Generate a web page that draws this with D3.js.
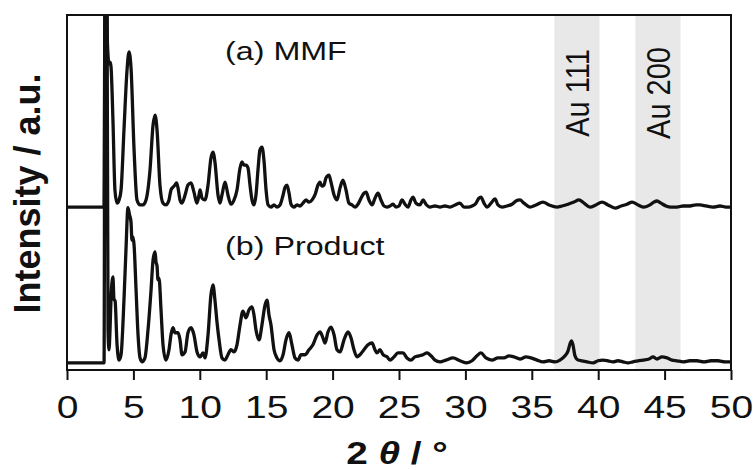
<!DOCTYPE html>
<meta charset="utf-8">
<script src="https://d3js.org/d3.v7.min.js"></script>
<style>
  body { margin: 0; background: #fff; }
  text { font-family: "Liberation Sans", Arial, sans-serif; fill: #111; }
</style>
<div id="chart"></div>
<script>
// 2-theta (deg) and intensity (a.u., above each trace's own baseline)
var mmf = [[0,0],[2.79,0],[2.86,60],[2.97,60],[3.05,45.6],[3.17,40.3],[3.24,40.8],[3.31,39.7],[3.46,24.5],[3.61,4.8],[3.77,1.1],[3.92,2.0],[4.07,4.8],[4.29,21.7],[4.52,38.6],[4.67,43.7],[4.82,39.2],[5.05,16.1],[5.27,2.0],[5.50,0.6],[5.72,0.6],[5.95,2.0],[6.25,10.4],[6.48,23.1],[6.63,25.9],[6.78,21.7],[7.00,6.2],[7.23,1.1],[7.45,0.6],[7.68,2.0],[7.83,4.8],[7.98,5.6],[8.13,6.2],[8.25,6.8],[8.36,5.4],[8.51,2.0],[8.66,1.1],[8.89,3.4],[9.11,6.2],[9.34,6.8],[9.56,4.2],[9.79,1.1],[9.94,3.4],[10.02,4.8],[10.17,2.5],[10.39,2.0],[10.62,6.2],[10.84,13.8],[10.99,15.5],[11.14,12.7],[11.37,3.4],[11.52,1.1],[11.67,3.4],[11.90,7.0],[12.12,3.4],[12.35,0.8],[12.58,2.0],[12.80,4.8],[13.03,11.0],[13.18,12.7],[13.33,11.8],[13.48,11.8],[13.63,11.0],[13.78,6.2],[13.93,2.0],[14.08,0.6],[14.23,3.4],[14.38,10.4],[14.53,16.1],[14.68,16.9],[14.83,13.2],[14.99,4.8],[15.14,0.6],[15.36,0],[15.59,0.6],[15.81,0],[16.04,0.6],[16.27,3.4],[16.42,5.6],[16.57,6.2],[16.72,3.9],[16.87,0.8],[17.09,0],[17.32,0.6],[17.55,0.3],[17.77,1.1],[18.00,2.0],[18.22,1.4],[18.45,2.0],[18.67,3.4],[18.90,6.2],[19.05,7.0],[19.20,5.9],[19.35,6.2],[19.50,8.2],[19.73,9.0],[19.88,7.0],[20.11,3.4],[20.33,2.0],[20.56,5.4],[20.78,7.6],[21.01,4.8],[21.23,1.1],[21.46,0.6],[21.69,0],[21.91,0.8],[22.14,2.5],[22.36,3.9],[22.52,4.2],[22.74,2.0],[22.97,0.6],[23.19,2.5],[23.42,3.9],[23.64,2.0],[23.87,0.3],[24.10,0],[24.32,0.3],[24.55,0.8],[24.77,0],[25.00,0.3],[25.23,2.0],[25.45,0.8],[25.68,0],[25.90,2.0],[26.05,2.8],[26.28,1.1],[26.58,0.6],[26.81,2.0],[27.03,0.8],[27.33,0],[27.71,0.3],[28.09,0],[28.46,0.3],[28.84,0],[29.22,0.6],[29.59,1.1],[29.89,0],[30.20,0],[30.50,0.3],[30.80,1.1],[31.02,2.5],[31.17,2.8],[31.40,1.1],[31.63,0],[31.93,1.1],[32.23,2.3],[32.45,0.6],[32.76,0],[33.13,0.3],[33.51,0.8],[33.81,1.7],[34.11,2.0],[34.41,1.1],[34.86,0],[35.32,0.6],[35.84,1.4],[36.30,0.6],[36.90,0],[37.27,0.3],[37.73,0.8],[38.18,1.4],[38.55,2.0],[38.93,1.1],[39.38,0],[39.83,0.6],[40.29,1.4],[40.74,0.6],[41.27,-0.3],[41.72,0.3],[42.17,0.8],[42.55,1.4],[43.00,0.6],[43.45,0],[43.90,0.6],[44.20,1.4],[44.43,1.7],[44.73,1.1],[45.11,0.3],[45.48,0],[45.93,0],[46.39,0.3],[46.91,0.3],[47.36,0.6],[47.67,0.6],[48.12,0.3],[48.64,0],[49.17,0.3],[49.62,0],[50,0]];

var product = [[0,0],[2.79,0],[2.86,105],[3.01,105],[3.09,9.3],[3.16,3.7],[3.24,9.3],[3.31,17.7],[3.46,24.2],[3.54,17.7],[3.61,17.7],[3.77,5.1],[3.92,0.8],[4.07,2.3],[4.29,17.7],[4.44,31.8],[4.59,43.7],[4.71,41.7],[4.82,39.7],[4.89,34.6],[4.97,35.5],[5.05,33.2],[5.20,20.6],[5.35,7.9],[5.50,1.4],[5.65,0.3],[5.87,1.4],[6.10,9.3],[6.33,20.6],[6.48,29.0],[6.63,31.3],[6.70,28.5],[6.78,27.3],[6.85,23.4],[6.93,23.9],[7.08,14.9],[7.23,5.1],[7.45,0.8],[7.68,3.7],[7.83,7.9],[7.98,9.9],[8.13,8.5],[8.36,8.5],[8.51,6.5],[8.66,2.3],[8.89,3.1],[9.11,8.5],[9.34,9.9],[9.56,7.9],[9.79,3.1],[10.02,1.7],[10.24,2.8],[10.39,1.4],[10.62,7.9],[10.84,19.2],[10.99,22.0],[11.14,17.7],[11.30,11.3],[11.45,6.5],[11.67,1.4],[11.90,0.8],[12.12,2.3],[12.35,3.7],[12.58,3.1],[12.80,5.1],[13.03,10.7],[13.25,14.6],[13.48,12.7],[13.70,14.9],[13.93,15.8],[14.08,13.5],[14.23,9.3],[14.46,6.5],[14.68,10.7],[14.91,16.3],[15.06,17.7],[15.21,13.5],[15.36,10.7],[15.59,3.7],[15.81,1.4],[16.04,0.6],[16.27,2.3],[16.49,6.5],[16.72,8.5],[16.94,5.1],[17.17,1.4],[17.40,0.8],[17.62,2.3],[17.92,2.3],[18.22,3.7],[18.52,5.1],[18.83,7.9],[19.05,8.7],[19.28,7.0],[19.43,5.6],[19.65,8.7],[19.88,10.1],[20.11,7.9],[20.33,3.7],[20.56,3.1],[20.86,6.5],[21.16,8.7],[21.39,7.0],[21.61,3.7],[21.84,1.7],[22.06,2.3],[22.36,3.7],[22.67,5.1],[22.97,5.6],[23.19,3.7],[23.34,2.8],[23.57,3.7],[23.80,2.3],[24.10,1.7],[24.32,0.8],[24.62,1.7],[24.92,2.8],[25.30,2.8],[25.60,1.4],[25.90,0.8],[26.20,1.7],[26.51,2.0],[26.81,2.3],[27.11,2.8],[27.41,2.0],[27.71,0.8],[28.09,0.3],[28.54,0.8],[29.07,1.4],[29.59,0.6],[30.12,0],[30.50,0.6],[30.87,2.0],[31.17,2.8],[31.55,1.4],[32.00,0.8],[32.45,1.4],[32.91,1.4],[33.28,2.0],[33.66,1.7],[34.11,1.1],[34.56,1.7],[34.94,1.4],[35.39,0.8],[35.84,0.3],[36.30,0.6],[36.75,0.3],[37.12,0.8],[37.50,2.0],[37.73,3.4],[37.88,5.4],[37.99,6.2],[38.10,5.1],[38.25,2.0],[38.48,0.8],[38.78,0.6],[39.16,0.3],[39.61,0],[39.98,0.6],[40.36,0.8],[40.74,0.6],[41.11,0.3],[41.49,0.6],[41.87,0.3],[42.24,0],[42.62,0.3],[43.00,0.6],[43.37,0.8],[43.83,1.1],[44.13,1.7],[44.43,1.1],[44.80,1.7],[45.18,1.4],[45.56,0.8],[45.93,0.6],[46.39,0.3],[46.91,0.6],[47.44,0.6],[47.97,0.3],[48.49,0.6],[49.02,0.6],[49.55,0.3],[50,0.3]];

var traceOffsets = {mmf: 45.9, product: 2.0};
var traceLabels = ["(a) MMF", "(b) Product"];
var auBands = [{label: "Au 111", from: 36.7, to: 40.1}, {label: "Au 200", from: 42.8, to: 46.2}];
var xTicks = [0, 5, 10, 15, 20, 25, 30, 35, 40, 45, 50];

var W = 753, H = 470;
var margin = {top: 15, right: 22, bottom: 100, left: 67};

var svg = d3.select("#chart").append("svg")
    .attr("width", W).attr("height", H);
svg.append("rect").attr("width", W).attr("height", H).attr("fill", "#fff");

var x = d3.scaleLinear().domain([0, 50]).range([margin.left, W - margin.right]);
var y = d3.scaleLinear().domain([0, 100]).range([H - margin.bottom, margin.top]);

svg.append("clipPath").attr("id", "plotclip")
  .append("rect")
    .attr("x", x(0)).attr("y", y(100))
    .attr("width", x(50) - x(0)).attr("height", y(0) - y(100));

// gold reflection bands
svg.append("g").selectAll("rect")
    .data(auBands)
    .enter().append("rect")
      .attr("x", function(d) { return x(d.from); })
      .attr("width", function(d) { return x(d.to) - x(d.from); })
      .attr("y", y(100))
      .attr("height", y(0) - y(100))
      .attr("fill", "#e8e8e8");

svg.append("g").selectAll("text")
    .data(auBands)
    .enter().append("text")
      .attr("transform", function(d) {
        return "translate(" + x((d.from + d.to) / 2) + "," + 93 + ") scale(1.15,1) rotate(-90)";
      })
      .attr("text-anchor", "middle")
      .attr("dy", "0.36em")
      .attr("font-size", 29)
      .text(function(d) { return d.label; });

// the two traces
function traceLine(offset) {
  return d3.line()
    .x(function(d) { return x(d[0]); })
    .y(function(d) { return y(d[1] + offset); })
    .curve(d3.curveMonotoneX);
}

var traces = svg.append("g").attr("clip-path", "url(#plotclip)");
traces.append("path")
    .datum(product)
    .attr("d", traceLine(traceOffsets.product))
    .attr("fill", "none").attr("stroke", "#111")
    .attr("stroke-width", 3.3).attr("stroke-linejoin", "round");
traces.append("path")
    .datum(mmf)
    .attr("d", traceLine(traceOffsets.mmf))
    .attr("fill", "none").attr("stroke", "#111")
    .attr("stroke-width", 3.3).attr("stroke-linejoin", "round");

// trace labels
svg.append("g").attr("transform", "translate(" + x(11.9) + ",60) scale(1.29,1)")
  .append("text").attr("font-size", 25).text(traceLabels[0]);
svg.append("g").attr("transform", "translate(" + x(11.9) + ",255) scale(1.29,1)")
  .append("text").attr("font-size", 25).text(traceLabels[1]);

// frame
svg.append("rect")
    .attr("x", x(0)).attr("y", y(100))
    .attr("width", x(50) - x(0)).attr("height", y(0) - y(100))
    .attr("fill", "none").attr("stroke", "#111").attr("stroke-width", 2);

// x axis
var xAxis = svg.append("g")
    .attr("transform", "translate(0," + y(0) + ")")
    .call(d3.axisBottom(x).tickValues(xTicks).tickSize(10).tickSizeOuter(0).tickFormat(d3.format("d")));
xAxis.select(".domain").remove();
xAxis.selectAll(".tick line").attr("stroke", "#111").attr("stroke-width", 2);
xAxis.selectAll(".tick text")
    .attr("y", 48).attr("dy", null)
    .attr("transform", "scale(1.22,1)")
    .attr("font-size", 32)
    .attr("font-family", "Liberation Sans, Arial, sans-serif")
    .attr("fill", "#111");

// axis titles
var xt = svg.append("g").attr("transform", "translate(397,464) scale(1.25,1)")
  .append("text").attr("text-anchor", "middle").attr("font-size", 31).attr("font-weight", "bold");
xt.append("tspan").text("2 ");
xt.append("tspan").attr("font-style", "italic").text("\u03b8");
xt.append("tspan").text(" / \u00b0");

svg.append("text")
    .attr("transform", "translate(40,193.5) rotate(-90)")
    .attr("text-anchor", "middle")
    .attr("font-size", 36)
    .attr("font-weight", "bold")
    .text("Intensity / a.u.");
</script>
